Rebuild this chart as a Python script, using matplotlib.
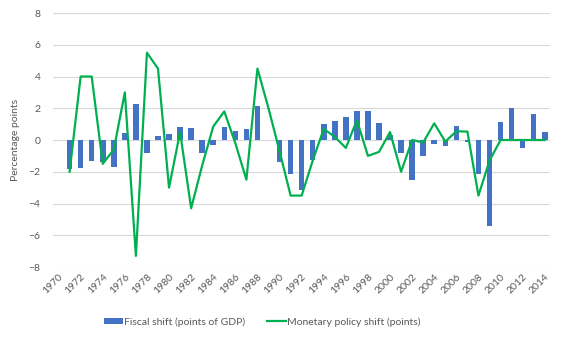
import numpy as np
import matplotlib.pyplot as plt

plt.rcParams['font.family'] = ['Lato', 'DejaVu Sans']

YEARS = list(range(1970, 2015))

# 1970 has no data in the source chart
FISCAL = [np.nan, -1.8, -1.75, -1.3, -1.4, -1.68, 0.42, 2.27, -0.84, 0.25,
          0.38, 0.8, 0.76, -0.8, -0.3, 0.82, 0.57, 0.7, 2.15, 0.0,
          -1.37, -2.12, -3.18, -1.25, 1.0, 1.2, 1.45, 1.83, 1.83, 1.1,
          0.3, -0.8, -2.5, -1.0, -0.28, -0.36, 0.88, -0.15, -2.13, -5.4,
          1.14, 2.0, -0.48, 1.64, 0.5]

MONETARY = [np.nan, -2.0, 4.0, 4.0, -1.5, -0.6, 3.0, -7.3, 5.5, 4.5,
            -3.0, 0.5, -4.3, -1.6, 0.85, 1.8, -0.2, -2.5, 4.5, 2.0,
            -0.7, -3.5, -3.5, -1.3, 0.7, 0.2, -0.5, 1.25, -1.0, -0.75,
            0.5, -2.0, 0.0, -0.15, 1.05, -0.1, 0.55, 0.53, -3.5, -1.3,
            0.0, 0.0, 0.0, 0.0, 0.0]

GREY = '#595959'


def make_plot():
    fig = plt.figure(figsize=(5.67, 3.4), dpi=100)
    ax = fig.add_axes([0.0935, 0.2147, 0.877, 0.747])

    x = np.arange(len(YEARS))
    bars = ax.bar(x, FISCAL, width=0.5, color='#4472C4', zorder=2,
                  label='Fiscal shift (points of GDP)')
    line, = ax.plot(x, MONETARY, color='#00B050', lw=1.6, zorder=3,
                    label='Monetary policy shift (points)')

    ax.set_xlim(-0.5, len(YEARS) - 0.5)
    ax.set_ylim(-8, 8)
    ax.set_yticks(range(-8, 9, 2))
    ax.set_xticks(x[::2])
    ax.set_xticklabels([str(y) for y in YEARS[::2]], rotation=45,
                       ha='right', rotation_mode='anchor')
    ax.tick_params(length=0, labelsize=7.5, colors=GREY)
    ax.tick_params(axis='x', pad=4)
    ax.tick_params(axis='y', pad=9)

    ax.grid(axis='y', color='#d9d9d9', lw=0.8, zorder=0)
    ax.set_axisbelow(True)
    for s in ax.spines.values():
        s.set_visible(False)

    ax.set_ylabel('Percentage points', fontsize=7.5, color=GREY, labelpad=6)

    fig.legend([bars, line], [bars.get_label(), line.get_label()],
               loc='center', bbox_to_anchor=(0.463, 0.053), ncol=2,
               frameon=False, fontsize=7.5, handlelength=1.8,
               handleheight=0.45, columnspacing=2.1, labelcolor=GREY,
               handletextpad=0.1)

    fig.savefig('out.png', dpi=100)
    plt.close(fig)


if __name__ == "__main__":
    make_plot()
